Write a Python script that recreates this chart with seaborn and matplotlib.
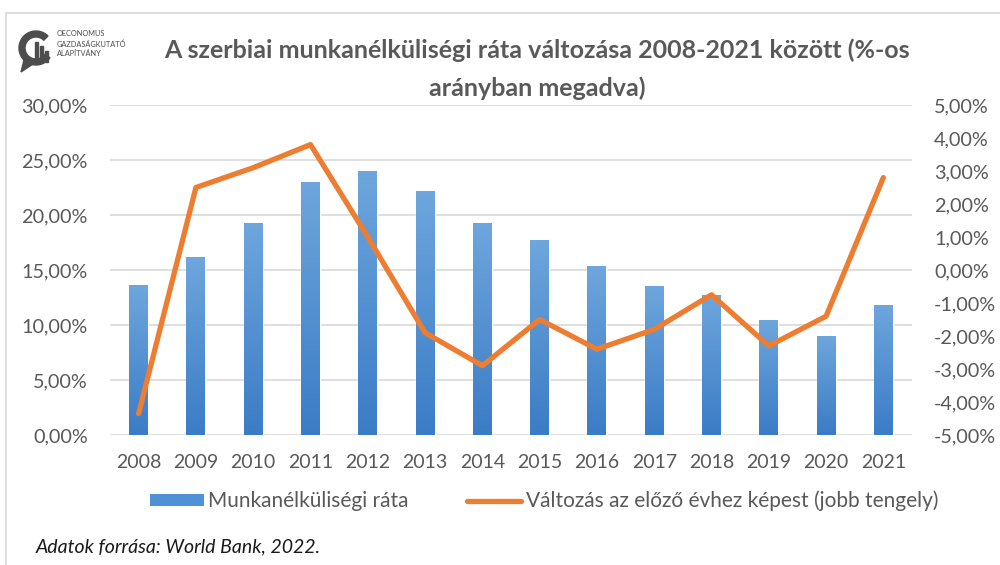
import numpy as np
import pandas as pd
import seaborn as sns
import matplotlib.pyplot as plt
from matplotlib.patches import Rectangle, Wedge, Polygon
from matplotlib.lines import Line2D
from matplotlib.colors import LinearSegmentedColormap
from matplotlib.ticker import FuncFormatter, MultipleLocator

# ---- data ----
years = ["2008", "2009", "2010", "2011", "2012", "2013", "2014",
         "2015", "2016", "2017", "2018", "2019", "2020", "2021"]
rate = [13.6, 16.1, 19.2, 23.0, 24.0, 22.1, 19.2,
        17.7, 15.3, 13.5, 12.7, 10.4, 9.0, 11.8]
change = [-4.35, 2.5, 3.1, 3.8, 1.0, -1.9, -2.9,
          -1.5, -2.4, -1.8, -0.75, -2.3, -1.4, 2.8]

title_1 = "A szerbiai munkanélküliségi ráta változása 2008-2021 között (%-os"
title_2 = "arányban megadva)"
legend_labels = ["Munkanélküliségi ráta", "Változás az előző évhez képest (jobb tengely)"]
source = "Adatok forrása: World Bank, 2022."
logo_lines = ["OECONOMUS", "GAZDASÁGKUTATÓ", "ALAPÍTVÁNY"]

GREY = "#595959"
ORANGE = "#ED7D31"
BLUE = "#5090d6"

sns.set_theme(style="white")
plt.rcParams['font.family'] = ['Lato', 'DejaVu Sans']

W, H = 1000, 565
fig = plt.figure(figsize=(W / 100, H / 100), dpi=100)

def fx(x):
    return x / W

def fy(y):
    return 1 - y / H

# frame
fig.add_artist(Rectangle((fx(6), fy(700)), fx(1100), (700 - 13) / H,
                         transform=fig.transFigure, fill=False,
                         edgecolor="#d9d9d9", lw=1.2))

ax = fig.add_axes([fx(110), fy(435), fx(912) - fx(110), (435 - 105) / H])
df = pd.DataFrame({"year": years, "rate": rate, "change": change})
sns.barplot(data=df, x="year", y="rate", ax=ax, color=BLUE, width=0.33,
            saturation=1, zorder=2)
ax.set_xlim(-0.5, len(years) - 0.5)
ax.set_ylim(0, 30)

# gradient fill for bars
cmap = LinearSegmentedColormap.from_list("g", ["#3b7cc6", "#6ea6dd"])
grad = np.linspace(0, 1, 256).reshape(-1, 1)
for p in list(ax.patches):
    x0, y0 = p.get_x(), p.get_y()
    w, h = p.get_width(), p.get_height()
    ax.imshow(grad, extent=[x0, x0 + w, y0, y0 + h], origin="lower",
              aspect="auto", cmap=cmap, zorder=2.1)
ax.set_xlim(-0.5, len(years) - 0.5)
ax.set_ylim(0, 30)

ax.yaxis.set_major_locator(MultipleLocator(5))
ax.yaxis.set_major_formatter(FuncFormatter(lambda v, _: f"{v:.2f}".replace(".", ",") + "%"))
ax.yaxis.grid(True, color="#d9d9d9", lw=1.2, zorder=0)
ax.set_axisbelow(True)
ax.set_xlabel("")
ax.set_ylabel("")
for s in ax.spines.values():
    s.set_visible(False)
ax.tick_params(axis="y", length=0, pad=16, labelsize=14.3, labelcolor=GREY)
ax.tick_params(axis="x", length=0, pad=14, labelsize=14, labelcolor=GREY)

ax2 = ax.twinx()
sns.lineplot(x=np.arange(len(years)), y=change, ax=ax2, color=ORANGE, lw=3.8,
             solid_joinstyle="round", solid_capstyle="round", zorder=3)
ax2.set_ylim(-5, 5)
ax2.yaxis.set_major_locator(MultipleLocator(1))
ax2.yaxis.set_major_formatter(FuncFormatter(lambda v, _: f"{v:.2f}".replace(".", ",") + "%"))
ax2.tick_params(axis="y", length=0, pad=16, labelsize=14.3, labelcolor=GREY)
ax2.set_ylabel("")
for s in ax2.spines.values():
    s.set_visible(False)
ax.set_xlim(-0.5, len(years) - 0.5)

# title
fig.text(0.537, fy(50), title_1, ha="center", va="center", fontsize=18,
         fontweight="bold", color=GREY)
fig.text(0.537, fy(88), title_2, ha="center", va="center", fontsize=18,
         fontweight="bold", color=GREY)

# legend
handles = [Rectangle((0, 0), 1, 1, facecolor=BLUE, edgecolor="none"),
           Line2D([0], [0], color=ORANGE, lw=3.8)]
fig.legend(handles, legend_labels, ncol=2, loc="center", bbox_to_anchor=(0.544, fy(501)),
           frameon=False, fontsize=15, labelcolor=GREY, handlelength=2.6,
           handleheight=0.5, handletextpad=0.2, columnspacing=2.8)

# source
fig.text(fx(36), fy(547), source, ha="left", va="center", fontsize=14,
         style="italic", color="#1a1a1a")

# logo
lax = fig.add_axes([fx(16), fy(74), fx(40), 48 / H])
lax.set_xlim(0, 40)
lax.set_ylim(0, 48)
lax.axis("off")
LOGO = "#4d4d4d"
lax.add_patch(Wedge((20, 26), 17, 45, 325, width=6, color=LOGO))
lax.add_patch(Polygon([[8, 14], [5, 2], [17, 10]], closed=True, color=LOGO))
lax.add_patch(Rectangle((19, 12), 3, 20, color=LOGO))
lax.add_patch(Rectangle((24, 12), 3, 16, color=LOGO))
lax.add_patch(Rectangle((29, 12), 3, 11, color=LOGO))
for i, t in enumerate(logo_lines):
    fig.text(fx(57), fy(34 + i * 10), t, ha="left", va="center", fontsize=5.3,
             color=LOGO)

fig.savefig("out.png", dpi=100)
